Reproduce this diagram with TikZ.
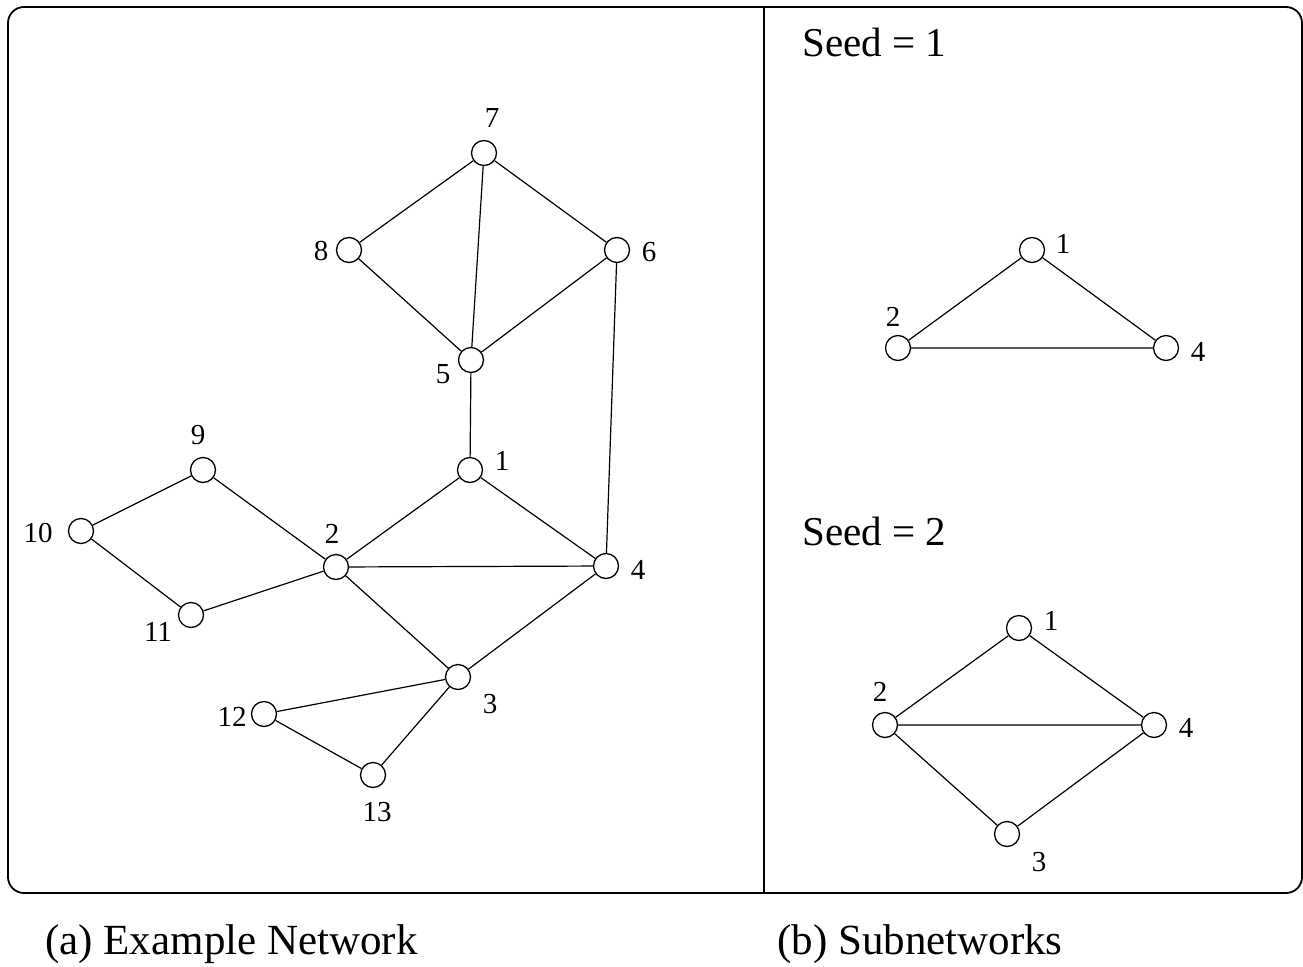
\documentclass[tikz,border=0pt]{standalone}
\usepackage{fontspec}
\setmainfont{Liberation Serif}
\usetikzlibrary{positioning}

\begin{document}
\begin{tikzpicture}[x=1pt,y=-1pt,
  every label/.style={font=\fontsize{29}{29}\selectfont,inner sep=0pt},
  vertex/.style={circle,draw,line width=1.3pt,minimum size=25pt,inner sep=0pt,fill=white},
  link/.style={line width=1.2pt},
  heading/.style={font=\fontsize{41}{41}\selectfont,anchor=west,inner sep=0pt},
  caption/.style={font=\fontsize{43}{43}\selectfont,anchor=west,inner sep=0pt}]
  \useasboundingbox (0,0) rectangle (1303,966);
  \draw[line width=1.8pt,rounded corners=16pt] (8,7) rectangle (1302,893);
  \draw[line width=1.8pt] (764,7) -- (764,893);

  % (a) example network
  \node[vertex,label={[xshift=8pt,yshift=35pt]center:7}]    (a7)  at (484,153) {};
  \node[vertex,label={[xshift=-28pt,yshift=-1pt]center:8}]  (a8)  at (349,250) {};
  \node[vertex,label={[xshift=32pt,yshift=-2pt]center:6}]   (a6)  at (617,250) {};
  \node[vertex,label={[xshift=-28pt,yshift=-14pt]center:5}] (a5)  at (471,360) {};
  \node[vertex,label={[xshift=32pt,yshift=9pt]center:1}]    (a1)  at (470,470) {};
  \node[vertex,label={[xshift=-5pt,yshift=35pt]center:9}]   (a9)  at (203,470) {};
  \node[vertex,label={[xshift=-43pt,yshift=-2pt]center:10}] (a10) at (81,531) {};
  \node[vertex,label={[xshift=-4pt,yshift=33pt]center:2}]   (a2)  at (336,567) {};
  \node[vertex,label={[xshift=32pt,yshift=-4pt]center:4}]   (a4)  at (606,566) {};
  \node[vertex,label={[xshift=-33pt,yshift=-17pt]center:11}] (a11) at (191,615) {};
  \node[vertex,label={[xshift=32pt,yshift=-27pt]center:3}]  (a3)  at (458,677) {};
  \node[vertex,label={[xshift=-32pt,yshift=-3pt]center:12}] (a12) at (264,714) {};
  \node[vertex,label={[xshift=4pt,yshift=-37pt]center:13}]  (a13) at (373,775) {};

  \draw[link] (a7) -- (a8)  (a7) -- (a6)  (a7) -- (a5)
              (a8) -- (a5)  (a6) -- (a5)  (a6) -- (a4)
              (a5) -- (a1)  (a1) -- (a2)  (a1) -- (a4)
              (a2) -- (a4)  (a9) -- (a10) (a9) -- (a2)
              (a10) -- (a11) (a11) -- (a2) (a2) -- (a3)
              (a3) -- (a4)  (a3) -- (a12) (a3) -- (a13)
              (a12) -- (a13);

  % (b) subnetworks
  \node[heading] (s1) at (802,42) {Seed = 1};
  \node[vertex,label={[xshift=31pt,yshift=6pt]center:1}]   (b1) at (1032,250) {};
  \node[vertex,label={[xshift=-5pt,yshift=31pt]center:2}]  (b2) at (898,348) {};
  \node[vertex,label={[xshift=32pt,yshift=-4pt]center:4}]  (b4) at (1166,348) {};
  \draw[link] (b1) -- (b2) (b1) -- (b4) (b2) -- (b4);

  \node[heading] (s2) at (802,531) {Seed = 2};
  \node[vertex,label={[xshift=32pt,yshift=7pt]center:1}]   (c1) at (1019,628) {};
  \node[vertex,label={[xshift=-5pt,yshift=33pt]center:2}]  (c2) at (885,725) {};
  \node[vertex,label={[xshift=32pt,yshift=-3pt]center:4}]  (c4) at (1154,725) {};
  \node[vertex,label={[xshift=32pt,yshift=-28pt]center:3}] (c3) at (1007,834) {};
  \draw[link] (c1) -- (c2) (c1) -- (c4) (c2) -- (c4)
              (c2) -- (c3) (c3) -- (c4);

  \node[caption] (capa) at (45,944) {(a) Example Network};
  \node[caption] (capb) at (777,944) {(b) Subnetworks};
\end{tikzpicture}
\end{document}
